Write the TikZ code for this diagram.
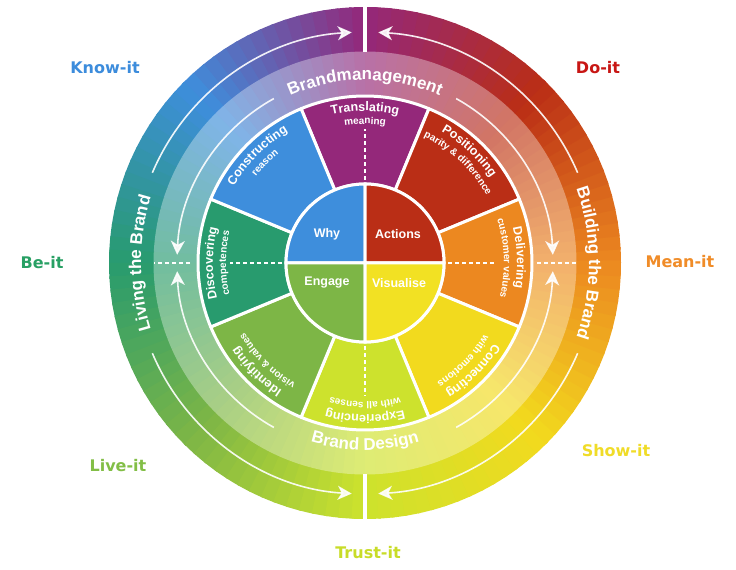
\documentclass[tikz,border=0pt]{standalone}
\usepackage{fontspec}
\setmainfont{Liberation Sans}
\newfontfamily\lblfont{DejaVu Sans}
\usetikzlibrary{decorations.text,arrows.meta}
\definecolor{cOr}{RGB}{236,136,32}
\definecolor{cRe}{RGB}{186,46,22}
\definecolor{cPu}{RGB}{148,40,122}
\definecolor{cBl}{RGB}{62,142,220}
\definecolor{cTe}{RGB}{40,155,110}
\definecolor{cGr}{RGB}{125,182,70}
\definecolor{cYG}{RGB}{205,226,45}
\definecolor{cYe}{RGB}{242,218,30}
\definecolor{lKnow}{RGB}{60,140,220}
\definecolor{lDo}{RGB}{200,22,20}
\definecolor{lBe}{RGB}{40,160,100}
\definecolor{lMean}{RGB}{240,140,40}
\definecolor{lLive}{RGB}{130,190,70}
\definecolor{lShow}{RGB}{240,220,40}
\definecolor{lTrust}{RGB}{200,220,40}
\newcommand\segmainfont{\fontsize{12.5}{12.5}\selectfont\bfseries}
\newcommand\segsubfont{\fontsize{10}{10}\selectfont\bfseries}
\newcommand\ringfont{\fontsize{17}{17}\selectfont\bfseries}
\newcommand\mysegtext[3]{%
  \pgfmathsetmacro\mysA{#1+22}\pgfmathsetmacro\mysB{#1-22}%
  \path[decorate, decoration={text along path, text color=white, text align=center,
     text={|\segmainfont|#2}}] (\mysA:152pt) arc[start angle=\mysA, end angle=\mysB, radius=152pt];
  \path[decorate, decoration={text along path, text color=white, text align=center,
     text={|\segsubfont|#3}}] (\mysA:139pt) arc[start angle=\mysA, end angle=\mysB, radius=139pt];
}
\newcommand\mysector[3]{% start angle, end angle, colour
  \fill[fill=#3, draw=white, line width=3pt, line join=round]
    (#1:79pt) -- (#1:167pt) arc[start angle=#1, end angle=#2, radius=167pt]
    -- (#2:79pt) arc[start angle=#2, end angle=#1, radius=79pt] -- cycle;
}
\tikzset{
  dashw/.style={white, line width=1.3pt, dash pattern=on 4pt off 3pt},
  arrw/.style={white, draw opacity=0.9, fill opacity=0.9, line width=1.6pt,
     -{Stealth[length=14pt, width=14pt, inset=4pt]}},
  lbl/.style={font=\lblfont\fontsize{16}{16}\selectfont\bfseries},
  quad/.style={text=white, font=\fontsize{12.5}{12.5}\selectfont\bfseries},
}
\begin{document}
\begin{tikzpicture}[x=1pt,y=1pt]
\useasboundingbox (0,0) rectangle (736,570);
\fill[white] (0,0) rectangle (736,570);
\begin{scope}[shift={(365,307)}]
  % conic rings
  \foreach \k/\ca/\cb in {0/cOr/cRe,1/cRe/cPu,2/cPu/cBl,3/cBl/cTe,4/cTe/cGr,5/cGr/cYG,6/cYG/cYe,7/cYe/cOr}{
    \foreach \j in {0,...,14}{
      \pgfmathsetmacro\aS{\k*45+\j*3}
      \pgfmathsetmacro\aE{\aS+3.6}
      \pgfmathsetmacro\p{100-\j*100/15-100/30}
      \fill[fill=\ca!\p!\cb] (\aS:211pt) arc[start angle=\aS, end angle=\aE, radius=211pt]
        -- (\aE:256pt) arc[start angle=\aE, end angle=\aS, radius=256pt] -- cycle;
      \fill[fill=\ca!\p!\cb!66!white] (\aS:165pt) arc[start angle=\aS, end angle=\aE, radius=165pt]
        -- (\aE:211.5pt) arc[start angle=\aE, end angle=\aS, radius=211.5pt] -- cycle;
    }
  }
  % segments
  \mysector{67.5}{112.5}{cPu}
  \mysector{22.5}{67.5}{cRe}
  \mysector{-22.5}{22.5}{cOr}
  \mysector{-67.5}{-22.5}{cYe}
  \mysector{-112.5}{-67.5}{cYG}
  \mysector{-157.5}{-112.5}{cGr}
  \mysector{157.5}{202.5}{cTe}
  \mysector{112.5}{157.5}{cBl}
  % inner quadrants
  \fill[fill=cBl, draw=white, line width=3pt] (0,0) -- (90:79pt) arc[start angle=90, end angle=180, radius=79pt] -- cycle;
  \fill[fill=cRe, draw=white, line width=3pt] (0,0) -- (0:79pt) arc[start angle=0, end angle=90, radius=79pt] -- cycle;
  \fill[fill=cGr, draw=white, line width=3pt] (0,0) -- (180:79pt) arc[start angle=180, end angle=270, radius=79pt] -- cycle;
  \fill[fill={rgb,255:red,242;green,225;blue,35}, draw=white, line width=3pt] (0,0) -- (270:79pt) arc[start angle=270, end angle=360, radius=79pt] -- cycle;
  % dashed lines
  \draw[dashw] (180:83pt) -- (180:135pt);
  \draw[dashw] (180:175pt) -- (180:211pt);
  \draw[dashw] (0:83pt) -- (0:130pt);
  \draw[dashw] (0:172pt) -- (0:211pt);
  \draw[dashw] (90:83pt) -- (90:134pt);
  \draw[dashw] (270:83pt) -- (270:133pt);
  % vertical white lines in outer ring
  \draw[white, line width=4pt] (90:211pt) -- (90:257pt);
  \draw[white, line width=4pt] (270:211pt) -- (270:257pt);
  % outer arrows
  \draw[arrw] (157:231pt) arc[start angle=157, end angle=93.3, radius=231pt];
  \draw[arrw] (23:231pt) arc[start angle=23, end angle=86.7, radius=231pt];
  \draw[arrw] (203:231pt) arc[start angle=203, end angle=266.7, radius=231pt];
  \draw[arrw] (337:231pt) arc[start angle=337, end angle=273.3, radius=231pt];
  % inner arrows
  \draw[arrw] (119:188pt) arc[start angle=119, end angle=177.5, radius=188pt];
  \draw[arrw] (241:188pt) arc[start angle=241, end angle=182.5, radius=188pt];
  \draw[arrw] (61:188pt) arc[start angle=61, end angle=2.5, radius=188pt];
  \draw[arrw] (299:188pt) arc[start angle=299, end angle=357.5, radius=188pt];
  % ring texts
  \path[decorate, decoration={text along path, text color=white, text align=center,
     text={|\ringfont|Brandmanagement}}] (125:183pt) arc[start angle=125, end angle=55, radius=183pt];
  \path[decorate, decoration={text along path, text color=white, text align=center,
     text={|\ringfont|Brand Design}}] (240:187pt) arc[start angle=240, end angle=300, radius=187pt];
  \path[decorate, decoration={text along path, text color=white, text align=center,
     text={|\ringfont|Living the Brand}}] (228:224pt) arc[start angle=228, end angle=132, radius=224pt];
  \path[decorate, decoration={text along path, text color=white, text align=center,
     text={|\ringfont|Building the Brand}}] (48:224pt) arc[start angle=48, end angle=-48, radius=224pt];
  % segment texts
  \mysegtext{90}{Translating}{meaning}
  \mysegtext{135}{Constructing}{reason}
  \mysegtext{47}{Positioning}{parity {\&} difference}
  \mysegtext{2}{Delivering}{customer values}
  \mysegtext{-45}{Connecting}{with emotions}
  \mysegtext{-90}{Experiencing}{with all senses}
  \mysegtext{-135}{Identifying}{vision {\&} values}
  \mysegtext{180}{Discovering}{competences}
  % quadrant labels
  \node[quad] (why) at (-38,29) {Why};
  \node[quad] (actions) at (33,29) {Actions};
  \node[quad] (engage) at (-38,-20) {Engage};
  \node[quad] (visualise) at (34,-20) {Visualise};
\end{scope}
% corner labels
\node[lbl, text=lKnow] (know) at (105,502) {Know-it};
\node[lbl, text=lDo] (do) at (598,502) {Do-it};
\node[lbl, text=lBe] (be) at (42,307) {Be-it};
\node[lbl, text=lMean] (mean) at (680,308) {Mean-it};
\node[lbl, text=lLive] (live) at (118,104) {Live-it};
\node[lbl, text=lShow] (show) at (616,119) {Show-it};
\node[lbl, text=lTrust] (trust) at (368,17) {Trust-it};
\end{tikzpicture}
\end{document}
